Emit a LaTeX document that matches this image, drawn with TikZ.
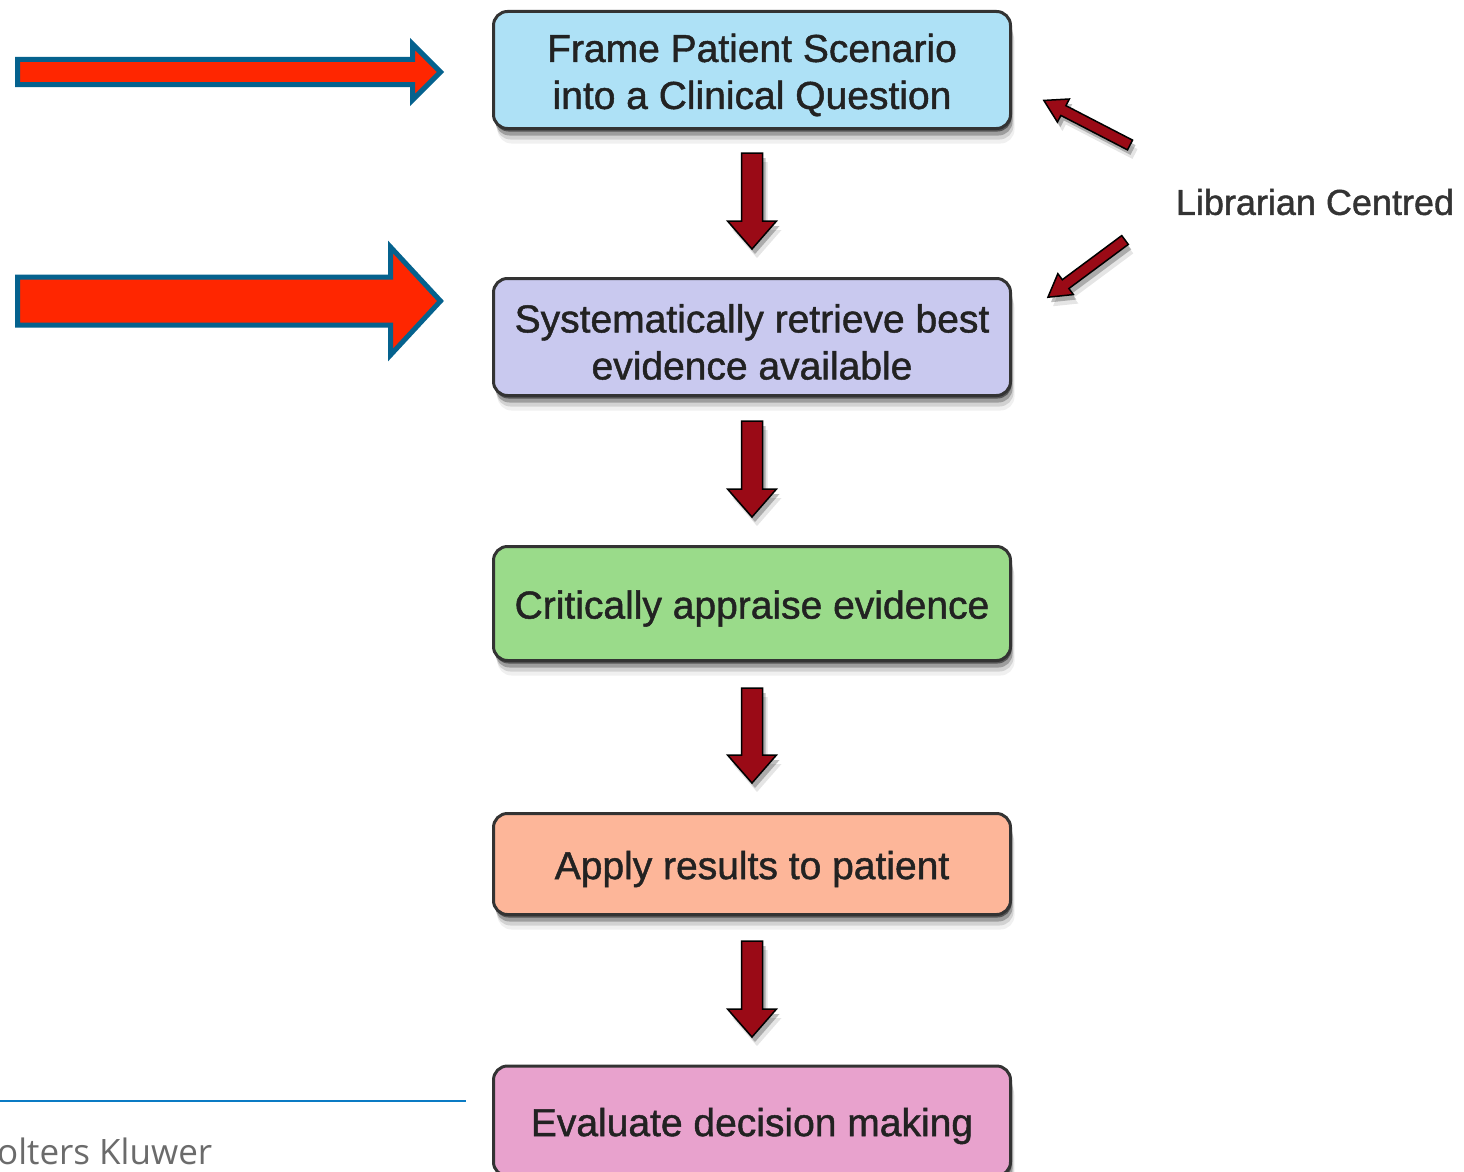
\documentclass[tikz,border=0pt]{standalone}
\usepackage{fontspec}
\setmainfont{Liberation Sans}
\newfontfamily\boxfont[FakeBold=1.2]{Liberation Sans}
\newfontfamily\wkfont{Open Sans}
\usetikzlibrary{shadows,calc}
\definecolor{c1}{HTML}{AEE1F6}
\definecolor{c2}{HTML}{C9C9EF}
\definecolor{c3}{HTML}{9ADB8A}
\definecolor{c4}{HTML}{FDB699}
\definecolor{c5}{HTML}{E8A2CD}
\definecolor{darr}{HTML}{9A0A16}
\definecolor{bigred}{HTML}{FF2600}
\definecolor{bigblue}{HTML}{05628E}
\definecolor{wkblue}{HTML}{0A7BC4}
\definecolor{boxline}{HTML}{333333}
\definecolor{txt}{HTML}{222222}
\newcommand\dn[1]{\raisebox{-5pt}[\height][\depth]{#1}}
\newcommand\fatarr[7]{%
\begin{scope}[shift={#2}, rotate=#3]
\path[#1] (0,-#5) -- ({#4-#7},-#5) -- ({#4-#7},-#6) -- (#4,0) -- ({#4-#7},#6) -- ({#4-#7},#5) -- (0,#5) -- cycle;
\end{scope}}
\begin{document}
\begin{tikzpicture}[x=1pt,y=-1pt,
  boxshadow/.style={drop shadow={shadow xshift=1pt,shadow yshift=-3pt,opacity=.45,fill=black},
                    drop shadow={shadow xshift=2pt,shadow yshift=-7pt,opacity=.25,fill=black},
                    drop shadow={shadow xshift=3pt,shadow yshift=-11pt,opacity=.12,fill=black},
                    drop shadow={shadow xshift=4pt,shadow yshift=-15pt,opacity=.06,fill=black}},
  arrshadow/.style={drop shadow={shadow xshift=3pt,shadow yshift=-5pt,opacity=.25,fill=black},
                    drop shadow={shadow xshift=5pt,shadow yshift=-9pt,opacity=.1,fill=black}},
  box/.style={draw=boxline, line width=3pt, rounded corners=14pt, minimum width=517pt,
              align=center, text=txt, font=\boxfont\fontsize{39}{47}\selectfont, boxshadow},
  downarrow/.style={fill=darr, draw=black, line width=1.5pt, line join=miter, arrshadow},
  bigarrow/.style={fill=bigred, draw=bigblue, line width=5pt, line join=miter}]
\useasboundingbox (0,0) rectangle (1464,1172);
\clip (0,0) rectangle (1464,1172);
\fill[white] (0,0) rectangle (1464,1172);

\node[box, fill=c1, minimum height=117pt] (b1) at (752,70) {\dn{Frame Patient Scenario}\\\dn{into a Clinical Question}};
\node[box, fill=c2, minimum height=117pt] (b2) at (752,337) {\dn{Systematically retrieve best}\\\dn{evidence available}};
\node[box, fill=c3, minimum height=114pt] (b3) at (752,603.5) {\dn{Critically appraise evidence}};
\node[box, fill=c4, minimum height=101pt] (b4) at (752,864) {\dn{Apply results to patient}};
\node[box, fill=c5, minimum height=110pt] (b5) at (752,1121) {\dn{Evaluate decision making}};

\fatarr{downarrow}{([yshift=-23pt]b1.south)}{-90}{96}{10.5}{24.5}{28}
\fatarr{downarrow}{([yshift=-24pt]b2.south)}{-90}{96}{10.5}{24.5}{28}
\fatarr{downarrow}{([yshift=-26pt]b3.south)}{-90}{95}{10.5}{24.5}{28}
\fatarr{downarrow}{([yshift=-25pt]b4.south)}{-90}{96}{10.5}{24.5}{28}

\coordinate (ta) at (1130,145);
\coordinate (tb) at (1125,240);
\fatarr{downarrow}{(ta)}{152.65}{97}{5.5}{13}{22}
\fatarr{downarrow}{(tb)}{-143.4}{96}{5.5}{13}{22}

\node[text=black!80, font=\boxfont\fontsize{36}{40}\selectfont] (lib) at (1315,202) {Librarian Centred};

\fatarr{bigarrow}{(17.5,72)}{0}{423}{12.5}{28}{28}
\fatarr{bigarrow}{(17.5,301)}{0}{423}{24}{54}{50}

\coordinate (l1) at (0,1101);
\coordinate (l2) at (466,1101);
\draw[wkblue, line width=2.5pt] (l1) -- (l2);
\node[anchor=base west, inner sep=0pt, text=black!58, font=\wkfont\fontsize{35}{40}\selectfont] (wk) at (-3,1164) {olters Kluwer};
\end{tikzpicture}
\end{document}
